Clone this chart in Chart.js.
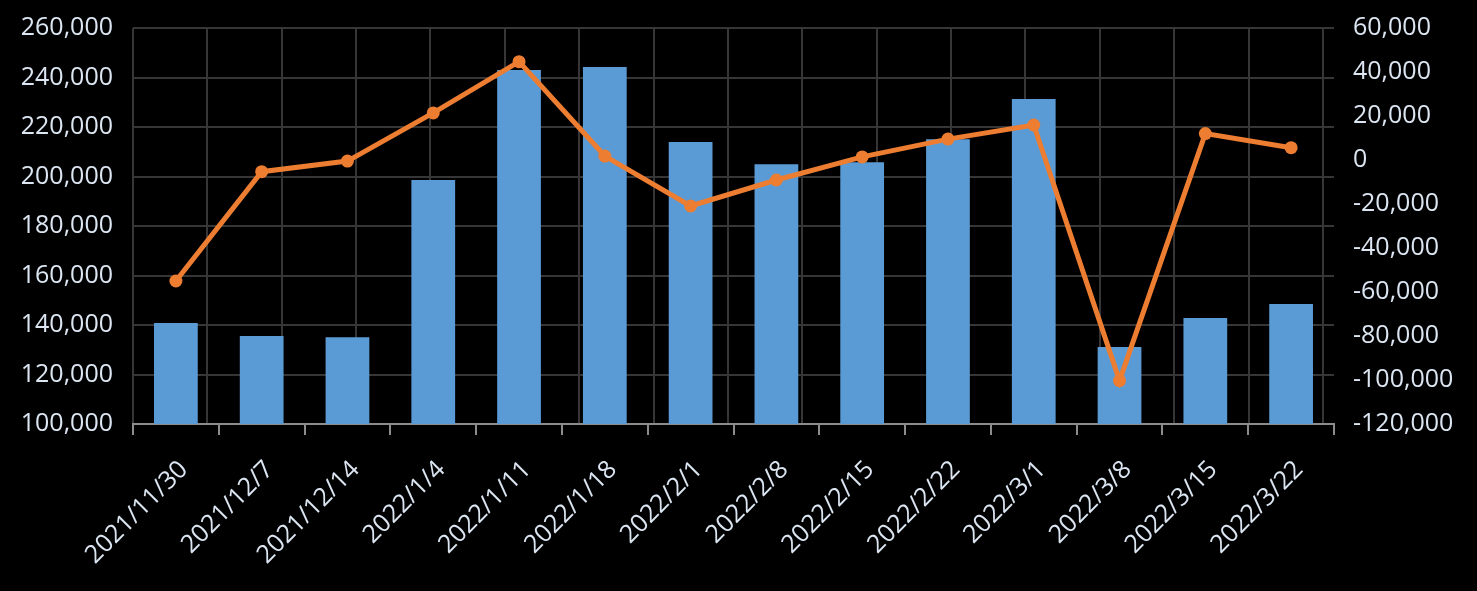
<!DOCTYPE html>
<html>
<head>
<meta charset="utf-8">
<script src="https://cdn.jsdelivr.net/npm/chart.js@4.4.1/dist/chart.umd.min.js"></script>
<style>
html,body{margin:0;padding:0;background:#000;}
#wrap{width:1477px;height:591px;position:relative;}
</style>
</head>
<body>
<div id="wrap"><canvas id="c" width="1477" height="591"></canvas></div>
<script>
const categories = ['2021/11/30','2021/12/7','2021/12/14','2022/1/4','2022/1/11','2022/1/18','2022/2/1','2022/2/8','2022/2/15','2022/2/22','2022/3/1','2022/3/8','2022/3/15','2022/3/22'];
const barValues = [140800, 135600, 135100, 198600, 243000, 244200, 213900, 205000, 205800, 215100, 231300, 131100, 142800, 148500];
const lineValues = [-55000, -5300, -500, 21400, 44700, 1800, -20900, -9100, 1400, 9500, 15900, -100300, 12000, 5600];
const leftTicks = {min: 100000, max: 260000, step: 20000};
const rightTicks = {min: -120000, max: 60000, step: 20000};

const txt = '#dce6f2';
const gridCol = '#363636';
const fontSpec = {family: "'Open Sans', sans-serif", size: 25};
const yFont = {family: "'Open Sans', sans-serif", size: 25, lineHeight: 0.6};

new Chart(document.getElementById('c'), {
  type: 'bar',
  data: {
    labels: categories,
    datasets: [
      {
        type: 'line', data: lineValues, yAxisID: 'y1', xAxisID: 'x',
        borderColor: '#ED7D31', backgroundColor: '#ED7D31', borderWidth: 5,
        pointRadius: 6.5, pointBackgroundColor: '#ED7D31', pointBorderWidth: 0,
        tension: 0, order: 0
      },
      {
        type: 'bar', data: barValues, yAxisID: 'y', xAxisID: 'x',
        backgroundColor: '#5B9BD5', borderWidth: 0,
        categoryPercentage: 1, barPercentage: 0.51, order: 1
      }
    ]
  },
  options: {
    responsive: false,
    animation: false,
    devicePixelRatio: 1,
    layout: {padding: {top: 28, left: 0, right: 0, bottom: 0}},
    plugins: {legend: {display: false}, tooltip: {enabled: false}},
    scales: {
      x: {
        type: 'category', position: 'bottom', offset: true,
        grid: {offset: true, drawOnChartArea: false, drawTicks: true, tickLength: 11, color: '#8c8c8c', lineWidth: 2},
        border: {display: true, color: '#8c8c8c', width: 2},
        ticks: {color: txt, font: fontSpec, minRotation: 45, maxRotation: 45, padding: 20, labelOffset: 8, autoSkip: false},
        afterFit(s) { s.height = 167; }
      },
      g: {
        type: 'linear', position: 'top', min: 0, max: 16.148, offset: false,
        afterBuildTicks(s) { const t = []; for (let i = 0; i <= 16; i++) t.push({value: i}); s.ticks = t; },
        grid: {color: gridCol, lineWidth: 2, drawTicks: false, offset: false},
        border: {display: false},
        ticks: {display: false},
        afterFit(s) { s.height = 0; }
      },
      y: {
        type: 'linear', position: 'left', min: leftTicks.min, max: leftTicks.max,
        ticks: {stepSize: leftTicks.step, color: txt, font: yFont, padding: 20,
          callback: v => v.toLocaleString('en-US')},
        grid: {color: gridCol, lineWidth: 2, drawTicks: false},
        border: {display: false},
        afterFit(s) { s.width = 133; }
      },
      y1: {
        type: 'linear', position: 'right', min: rightTicks.min, max: rightTicks.max,
        ticks: {stepSize: rightTicks.step, color: txt, font: yFont, padding: 19,
          callback: v => v.toLocaleString('en-US')},
        grid: {drawOnChartArea: false, drawTicks: false},
        border: {display: false},
        afterFit(s) { s.width = 143; }
      }
    }
  }
});
</script>
</body>
</html>
